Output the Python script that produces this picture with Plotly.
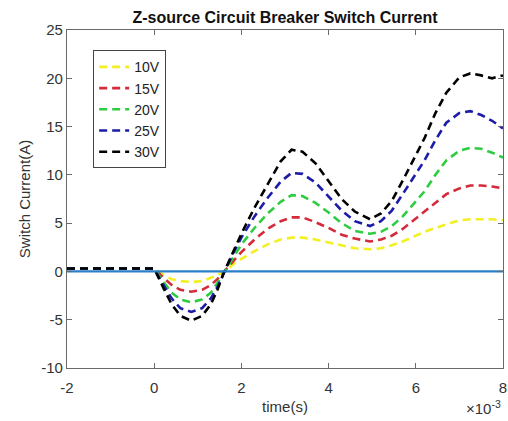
import plotly.graph_objects as go

# time in units of 1e-3 s
t = [-2, -1, 0, 0.2, 0.4, 0.6, 0.85, 1.1, 1.3, 1.45, 1.6, 1.8, 2.0, 2.3, 2.6, 2.9, 3.15, 3.4,
     3.7, 4.0, 4.3, 4.6, 4.95, 5.2, 5.45, 5.7, 5.95, 6.2, 6.45, 6.7, 7.0, 7.25, 7.5, 7.75, 8.0]

i_10v = [0.3, 0.3, 0.3, -0.3, -0.8, -1.0, -1.1, -1.0, -0.7, -0.4, 0.0, 0.7, 1.3, 2.1, 2.8, 3.3, 3.5, 3.5,
         3.3, 3.0, 2.7, 2.4, 2.3, 2.4, 2.7, 3.1, 3.6, 4.1, 4.5, 4.9, 5.3, 5.4, 5.4, 5.4, 5.3]
i_15v = [0.3, 0.3, 0.3, -0.6, -1.4, -1.9, -2.1, -1.9, -1.4, -0.8, 0.0, 1.0, 2.0, 3.3, 4.4, 5.2, 5.6, 5.6,
         5.1, 4.5, 3.8, 3.4, 3.1, 3.3, 3.7, 4.4, 5.3, 6.2, 7.1, 8.0, 8.6, 8.9, 8.9, 8.8, 8.6]
i_20v = [0.3, 0.3, 0.3, -1.0, -2.2, -2.9, -3.2, -2.9, -2.2, -1.2, -0.1, 1.4, 2.8, 4.5, 6.0, 7.2, 7.9, 7.8,
         7.1, 6.1, 5.0, 4.2, 3.9, 4.1, 4.7, 5.7, 7.0, 8.3, 10.0, 11.5, 12.5, 12.8, 12.7, 12.3, 11.8]
i_25v = [0.3, 0.3, 0.3, -1.3, -2.8, -3.8, -4.2, -3.8, -2.8, -1.6, -0.1, 1.8, 3.5, 5.7, 7.6, 9.3, 10.2, 10.1,
         9.2, 7.8, 6.3, 5.2, 4.7, 5.2, 6.3, 8.0, 9.7, 11.5, 13.6, 15.4, 16.4, 16.6, 16.2, 15.6, 14.8]
i_30v = [0.3, 0.3, 0.3, -1.6, -3.4, -4.6, -5.1, -4.6, -3.4, -1.9, -0.1, 1.9, 3.9, 6.6, 9.0, 11.4, 12.6, 12.4,
         11.2, 9.3, 7.5, 6.2, 5.4, 6.0, 7.3, 9.4, 11.6, 13.8, 16.4, 18.5, 20.1, 20.5, 20.3, 20.0, 20.3]

zero_t = [-2, 8]
zero_i = [0, 0]

names = ["10V", "15V", "20V", "25V", "30V"]
series = [i_10v, i_15v, i_20v, i_25v, i_30v]
colors = ["#f2f020", "#d42a3a", "#2ecc40", "#1c1ca8", "#000000"]

x_ticks = [-2, 0, 2, 4, 6, 8]
y_ticks = [-10, -5, 0, 5, 10, 15, 20, 25]

FONT = "Liberation Sans, Arial, sans-serif"

fig = go.Figure()
for name, ys, c in zip(names, series, colors):
    fig.add_trace(go.Scatter(
        x=t, y=ys, name=name, mode="lines",
        line=dict(color=c, width=2.6, dash="8px,5px"),
    ))
fig.add_trace(go.Scatter(
    x=zero_t, y=zero_i, mode="lines", showlegend=False,
    line=dict(color="#2a7fca", width=2.2),
))

axis_common = dict(
    showgrid=False, zeroline=False, showline=True, mirror="ticks",
    linecolor="#6a6a6a", linewidth=1.2, ticks="inside", ticklen=5,
    tickcolor="#6a6a6a", tickfont=dict(family=FONT, size=15, color="#333333"),
    automargin=False,
)

fig.update_layout(
    width=508, height=421,
    margin=dict(l=67, r=5, t=30, b=53),
    paper_bgcolor="white", plot_bgcolor="white",
    title=dict(text="<b>Z-source Circuit Breaker Switch Current</b>",
               x=(67 + 503) / 2 / 508, xanchor="center", y=1 - 17 / 421, yanchor="middle",
               font=dict(family=FONT, size=16, color="#111111")),
    xaxis=dict(range=[-2, 8], tickvals=x_ticks, ticktext=[str(v) for v in x_ticks],
               ticklabelstandoff=6,
               title=dict(text="time(s)", standoff=6, font=dict(family=FONT, size=15, color="#333333")),
               **axis_common),
    yaxis=dict(range=[-10, 25], tickvals=y_ticks, ticktext=[str(v) for v in y_ticks],
               title=dict(text="Switch Current(A)", standoff=6, font=dict(family=FONT, size=15, color="#333333")),
               **axis_common),
    legend=dict(x=0.06, y=0.94, xanchor="left", yanchor="top",
                bgcolor="white", bordercolor="#444444", borderwidth=1,
                font=dict(family=FONT, size=14, color="#222222"), itemwidth=30),
    showlegend=True,
)

fig.add_annotation(text="×10<sup>-3</sup>", xref="paper", yref="paper",
                   x=1.0, y=-(419 - 368) / 338, xanchor="right", yanchor="bottom", showarrow=False,
                   font=dict(family=FONT, size=15, color="#333333"))

fig.write_html("out.html")
